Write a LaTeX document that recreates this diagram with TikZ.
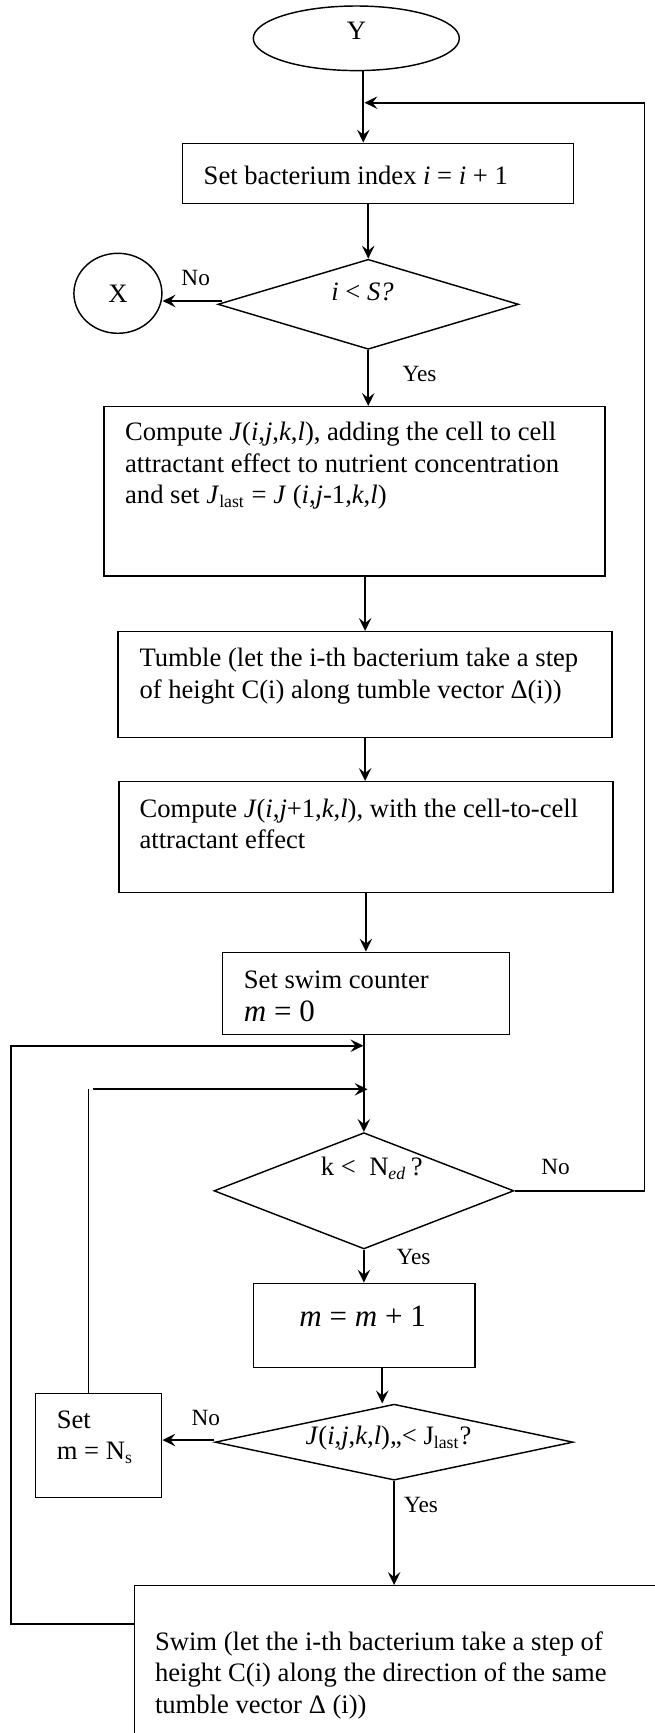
\documentclass[tikz,border=0pt]{standalone}
\usepackage{fontspec}
\setmainfont{Liberation Serif}
\usetikzlibrary{arrows.meta,shapes.geometric}
\newlength\unitpx
\setlength\unitpx{0.451pt}
\tikzset{
  shapeline/.style={draw=black, line width=0.65pt},
  procbox/.style={shapeline, rectangle, inner sep=0pt},
  decision/.style={shapeline, diamond, inner sep=0pt, aspect=3},
  terminal/.style={shapeline, ellipse, inner sep=0pt},
  txt/.style={inner sep=0pt, align=left, font=\fontsize{12}{14.2}\selectfont},
  lbl/.style={inner sep=0pt, font=\fontsize{10.5}{12}\selectfont},
  mathbig/.style={inner sep=0pt, font=\fontsize{14}{16}\selectfont},
  flow/.style={line width=0.85pt, -{Stealth[length=5.8pt,width=5.6pt,inset=2.2pt]}},
  loopline/.style={line width=0.75pt},
}
\begin{document}
\begin{tikzpicture}[x=\unitpx, y=-\unitpx, font=\fontsize{12}{14.2}\selectfont]
\useasboundingbox (0,0) rectangle (655,1733);
\clip (0,0) rectangle (655,1733);

% start terminal and bacterium index
\node[terminal, minimum width=206*\unitpx, minimum height=64.6*\unitpx] (Y) at (356.3,38.3) {};
\node[txt] (Ytext) at (356.5,31) {Y};
\node[procbox, minimum width=391*\unitpx, minimum height=60*\unitpx] (b1) at (377.8,173.3) {};
\node[txt, anchor=west] (b1text) at (203.3,175) {Set bacterium index \textit{i} = \textit{i} + 1};

% test on the population size
\node[decision, minimum width=300.7*\unitpx, minimum height=90*\unitpx] (d1) at (368.25,304.3) {};
\node[txt] (d1text) at (362.5,292) {\textit{i} < \textit{S?}};
\node[terminal, minimum width=88*\unitpx, minimum height=80*\unitpx] (X) at (117.9,293.3) {X};
\node[lbl] (d1no) at (195.7,278.3) {No};
\node[lbl] (d1yes) at (419.6,374) {Yes};

% evaluation, tumble and re-evaluation
\node[procbox, minimum width=501.3*\unitpx, minimum height=169.3*\unitpx] (c1) at (354.45,491.35) {};
\node[txt, anchor=west] (c1text) at (124.7,466) {Compute \textit{J}(\textit{i},\textit{j},\textit{k},\textit{l}), adding the cell to cell\\ attractant effect to nutrient concentration\\ and set \textit{J}\textsubscript{last} = \textit{J} (\textit{i},\textit{j}-1,\textit{k},\textit{l})};
\node[procbox, minimum width=493.8*\unitpx, minimum height=106*\unitpx] (t1) at (365.1,684.7) {};
\node[txt, anchor=west] (t1text) at (139.1,676) {Tumble (let the i-th bacterium take a step\\ of height C(i) along tumble vector Δ(i))};
\node[procbox, minimum width=493.8*\unitpx, minimum height=110.6*\unitpx] (c2) at (365.9,837) {};
\node[txt, anchor=west] (c2text) at (139.1,824) {Compute \textit{J}(\textit{i},\textit{j}+1,\textit{k},\textit{l}), with the cell-to-cell\\ attractant effect};

% swim counter
\node[procbox, minimum width=287*\unitpx, minimum height=82*\unitpx] (s0) at (366.1,993.3) {};
\node[txt, anchor=west] (s0text) at (243.5,980) {Set swim counter};
\node[mathbig, anchor=west] (s0math) at (243.5,1011.7) {\textit{m} = 0};

% elimination-dispersal test
\node[decision, minimum width=299.9*\unitpx, minimum height=116.3*\unitpx] (d2) at (363.9,1190.8) {};
\node[txt] (d2text) at (371.8,1168.3) {k <\ \ N\textsubscript{\textit{ed}}\,?};
\node[lbl] (d2no) at (555.6,1167.3) {No};
\node[lbl] (d2yes) at (413.5,1256.7) {Yes};

% swim step
\node[procbox, minimum width=221.4*\unitpx, minimum height=84.4*\unitpx] (m1) at (364.2,1325.5) {};
\node[mathbig] (m1text) at (362.6,1316.7) {\textit{m} = \textit{m} + 1};
\node[decision, minimum width=358*\unitpx, minimum height=76*\unitpx] (d3) at (394.1,1442.15) {};
\node[txt] (d3text) at (388.5,1438.3) {\textit{J}(\textit{i},\textit{j},\textit{k},\textit{l}),,< J\textsubscript{last}?};
\node[lbl] (d3no) at (205.9,1418.3) {No};
\node[lbl] (d3yes) at (421,1505) {Yes};
\node[procbox, minimum width=126.2*\unitpx, minimum height=104.4*\unitpx] (sm) at (98.6,1445.5) {};
\node[txt, anchor=west] (smtext) at (56.4,1437) {Set\\ m = N\textsubscript{s}};
\node[procbox, anchor=north west, minimum width=600*\unitpx, minimum height=250*\unitpx] (sw) at (133.7,1585) {};
\node[txt, anchor=west] (swtext) at (154.6,1675) {Swim (let the i-th bacterium take a step of\\ height C(i) along the direction of the same\\ tumble vector Δ (i))};

% main flow
\draw[flow] ([xshift=7*\unitpx]Y.south) -- ([xshift=7*\unitpx]Y.south |- b1.north);
\draw[flow] (b1.south -| d1.north) -- (d1.north);
\coordinate (nostart1) at ([shift={(5.3,-3.3)}]d1.west);
\draw[flow] (nostart1) -- (nostart1 -| X.east);
\draw[flow] (d1.south) -- (d1.south |- c1.north);
\draw[flow] (c1.south -| t1.north) -- (t1.north);
\draw[flow] (t1.south) -- (t1.south |- c2.north);
\draw[flow] (c2.south) -- (c2.south |- s0.north);
\draw[flow] (s0.south -| d2.north) -- (d2.north);
\draw[flow] (d2.south) -- (d2.south |- m1.north);
\draw[flow] ([xshift=18*\unitpx]m1.south) -- ([xshift=18*\unitpx]m1.south |- d3.north);
\coordinate (nostart3) at ([shift={(0,-2.15)}]d3.west);
\draw[flow] (nostart3) -- (nostart3 -| sm.east);
\draw[flow] (d3.south) -- (d3.south |- sw.north);

% loops back
\coordinate (rightcorner) at (644.5,102.7);
\coordinate (rightjoin) at (364.5,102.7);
\draw[flow, line width=0.75pt] (d2.east) -| (rightcorner) -- (rightjoin);
\coordinate (lowleft) at (11.3,1624.3);
\coordinate (outerjoin) at (363.4,1045.7);
\draw[flow, line width=0.75pt] (lowleft -| sw.west) -- (lowleft) |- (outerjoin);
\coordinate (innerbend) at (88.6,1089.3);
\coordinate (innerjoin) at (367.6,1089.3);
\draw[line width=0.45pt] ([xshift=-10*\unitpx]sm.north) -- (innerbend);
\draw[flow] ([xshift=4*\unitpx]innerbend) -- (innerjoin);
\end{tikzpicture}
\end{document}
